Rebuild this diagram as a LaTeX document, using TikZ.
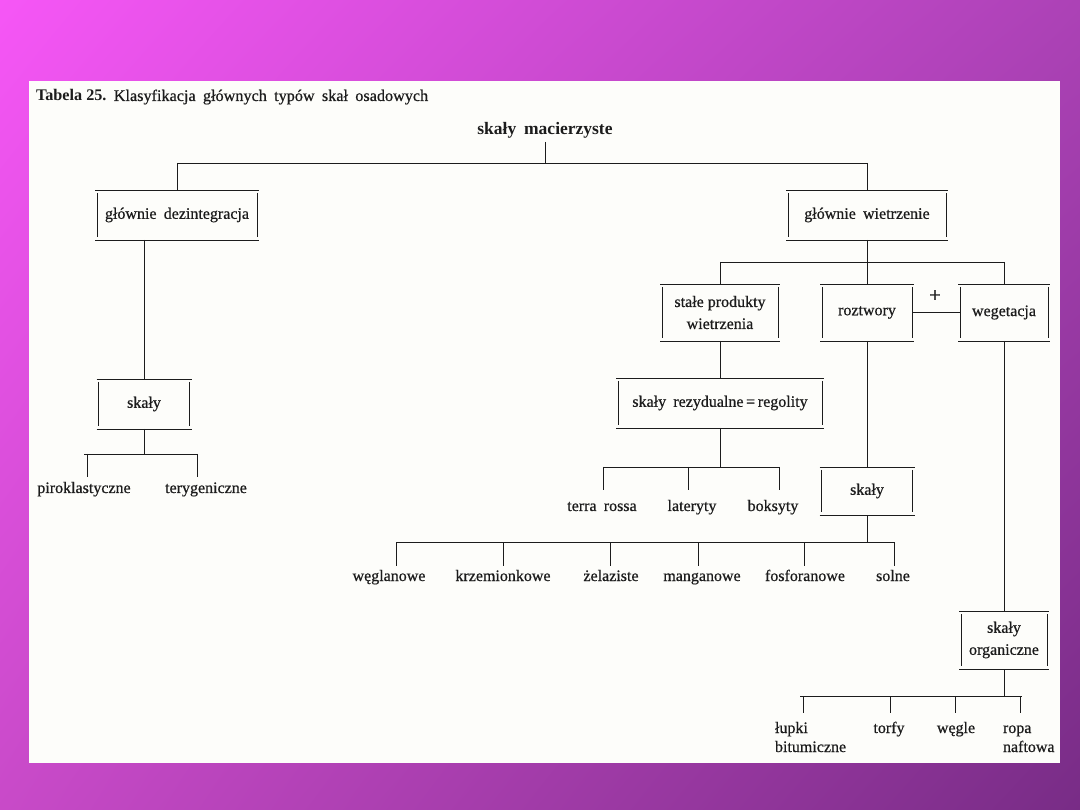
\documentclass[tikz,border=0pt]{standalone}
\usepackage{fontspec}
\setmainfont{Liberation Serif}[UprightFeatures={FakeBold=0.6}]
\usetikzlibrary{shadings}
\definecolor{ink}{RGB}{28,28,28}
\definecolor{paper}{RGB}{253,253,250}
\definecolor{bgTL}{RGB}{246,86,246}
\definecolor{bgTR}{RGB}{172,66,182}
\definecolor{bgBL}{RGB}{200,74,200}
\definecolor{bgBR}{RGB}{120,44,134}
\newcommand\wsp{\hspace{0.45em}}
\newcommand\tbframe[1]{%
  \draw[ln] ([xshift=-2pt]#1.north west) -- ([xshift=2pt]#1.north east);
  \draw[ln] ([xshift=-2pt]#1.south west) -- ([xshift=2pt]#1.south east);
  \draw[ln] ([yshift=-3pt]#1.north west) -- ([yshift=3pt]#1.south west);
  \draw[ln] ([yshift=-3pt]#1.north east) -- ([yshift=3pt]#1.south east);}
\begin{document}
\begin{tikzpicture}[x=1pt,y=-1pt,
  ln/.style={line width=0.85pt,draw=ink},
  txt/.style={inner sep=0pt,outer sep=0pt,text=ink,font=\fontsize{16}{22}\selectfont},
  leaf/.style={txt,anchor=base,inner ysep=0pt},
  tb/.style={txt,align=center,draw=none}]
\useasboundingbox (0,0) rectangle (1080,810);
\shade[upper left=bgTL,upper right=bgTR,lower left=bgBL,lower right=bgBR] (0,0) rectangle (1080,810);
\fill[paper] (29,81) rectangle (1060,763);

% title
\node[txt,anchor=base west,font=\fontsize{16.2}{20}\selectfont] (title) at (36,101)
  {\textbf{Tabela 25.}\wsp Klasyfikacja\wsp głównych\wsp typów\wsp skał\wsp osadowych};
\node[txt,anchor=base,font=\fontsize{17.5}{20}\selectfont\bfseries] (mac) at (545,135) {skały\wsp macierzyste};

% boxes
\node[tb,minimum width=160pt,minimum height=50pt] (dez) at (177,215) {głównie\wsp dezintegracja};
\node[tb,minimum width=158pt,minimum height=50pt] (wie) at (867,215) {głównie\wsp wietrzenie};
\node[tb,minimum width=91pt,minimum height=50pt] (skL) at (144,404) {skały};
\node[tb,minimum width=116pt,minimum height=57pt] (stp) at (720,312.5) {stałe produkty\\wietrzenia};
\node[tb,minimum width=90pt,minimum height=57pt] (roz) at (867,312.5) {roztwory};
\node[tb,minimum width=88pt,minimum height=57pt] (weg) at (1004,312.5) {wegetacja};
\node[tb,minimum width=204pt,minimum height=50pt] (rez) at (720,403) {skały\wsp rezydualne\,=\,regolity};
\node[tb,minimum width=91pt,minimum height=48pt] (skR) at (867,491) {skały};
\node[tb,minimum width=86pt,minimum height=58pt] (org) at (1004,640) {skały\\organiczne};
\foreach \b in {dez,wie,skL,stp,roz,weg,rez,skR,org} {\tbframe{\b}}
\node[txt,font=\fontsize{21}{22}\selectfont] (plus) at (935,296) {+};

% leaves
\node[leaf] (pir) at (84,493) {piroklastyczne};
\node[leaf] (ter) at (206,493) {terygeniczne};
\node[leaf] (ter2) at (602,511) {terra\wsp rossa};
\node[leaf] (lat) at (692,511) {lateryty};
\node[leaf] (bok) at (773,511) {boksyty};
\node[leaf] (weng) at (389,581) {węglanowe};
\node[leaf] (krz) at (503,581) {krzemionkowe};
\node[leaf] (zel) at (611,581) {żelaziste};
\node[leaf] (man) at (702,581) {manganowe};
\node[leaf] (fos) at (805,581) {fosforanowe};
\node[leaf] (sol) at (893,581) {solne};
\node[txt,anchor=base west,align=left,font=\fontsize{16}{19}\selectfont] (lup) at (775,752) {łupki\\bitumiczne};
\node[leaf] (tor) at (889,733) {torfy};
\node[leaf] (wgl) at (956,733) {węgle};
\node[txt,anchor=base west,align=left,font=\fontsize{16}{19}\selectfont] (rop) at (1003,752) {ropa\\naftowa};

% bar coordinates
\coordinate (t1) at (177,163); \coordinate (t2) at (867,163);
\coordinate (l1) at (84,454);  \coordinate (l2) at (198,454);
\coordinate (r1) at (720,262); \coordinate (r2) at (1004,262);
\coordinate (z1) at (603,467); \coordinate (z2) at (779,467);
\coordinate (s1) at (396,542); \coordinate (s2) at (895,542);
\coordinate (o1) at (800,696); \coordinate (o2) at (1022,696);

% top level
\draw[ln] ([yshift=-7pt]mac.base) -- (mac.base |- t1);
\draw[ln] (t1) -- (t2);
\draw[ln] (t1) -- (dez.north);
\draw[ln] (t2) -- (wie.north);

% left branch
\draw[ln] (dez.south -| skL.north) -- (skL.north);
\draw[ln] (skL.south) -- (skL.south |- l1);
\draw[ln] (l1) -- (l2);
\coordinate (dp) at (87,454); \coordinate (dt) at (197,454);
\draw[ln] (dp) -- ++(0,23);
\draw[ln] (dt) -- ++(0,23);

% right branch
\draw[ln] (wie.south) -- (wie.south |- r1);
\draw[ln] (r1) -- (r2);
\draw[ln] (r1) -- (stp.north);
\draw[ln] (wie.south |- r1) -- (roz.north);
\draw[ln] (r2) -- (weg.north);
\draw[ln] (roz.east) -- (weg.west);

% residual
\draw[ln] (stp.south) -- (rez.north);
\draw[ln] (rez.south) -- (rez.south |- z1);
\draw[ln] (z1) -- (z2);
\coordinate (dl) at (688,467);
\draw[ln] (z1) -- ++(0,23);
\draw[ln] (dl) -- ++(0,23);
\draw[ln] (z2) -- ++(0,23);

% solutions
\draw[ln] (roz.south) -- (skR.north);
\draw[ln] (skR.south) -- (skR.south |- s1);
\draw[ln] (s1) -- (s2);
\foreach \x in {396,503,610,698,804,894} {\draw[ln] (\x,542) -- ++(0,24);}

% organic
\draw[ln] (weg.south) -- (org.north);
\draw[ln] (org.south) -- (org.south |- o1);
\draw[ln] (o1) -- (o2);
\foreach \x in {803,890,955,1020} {\draw[ln] (\x,696) -- ++(0,17);}
\end{tikzpicture}
\end{document}
